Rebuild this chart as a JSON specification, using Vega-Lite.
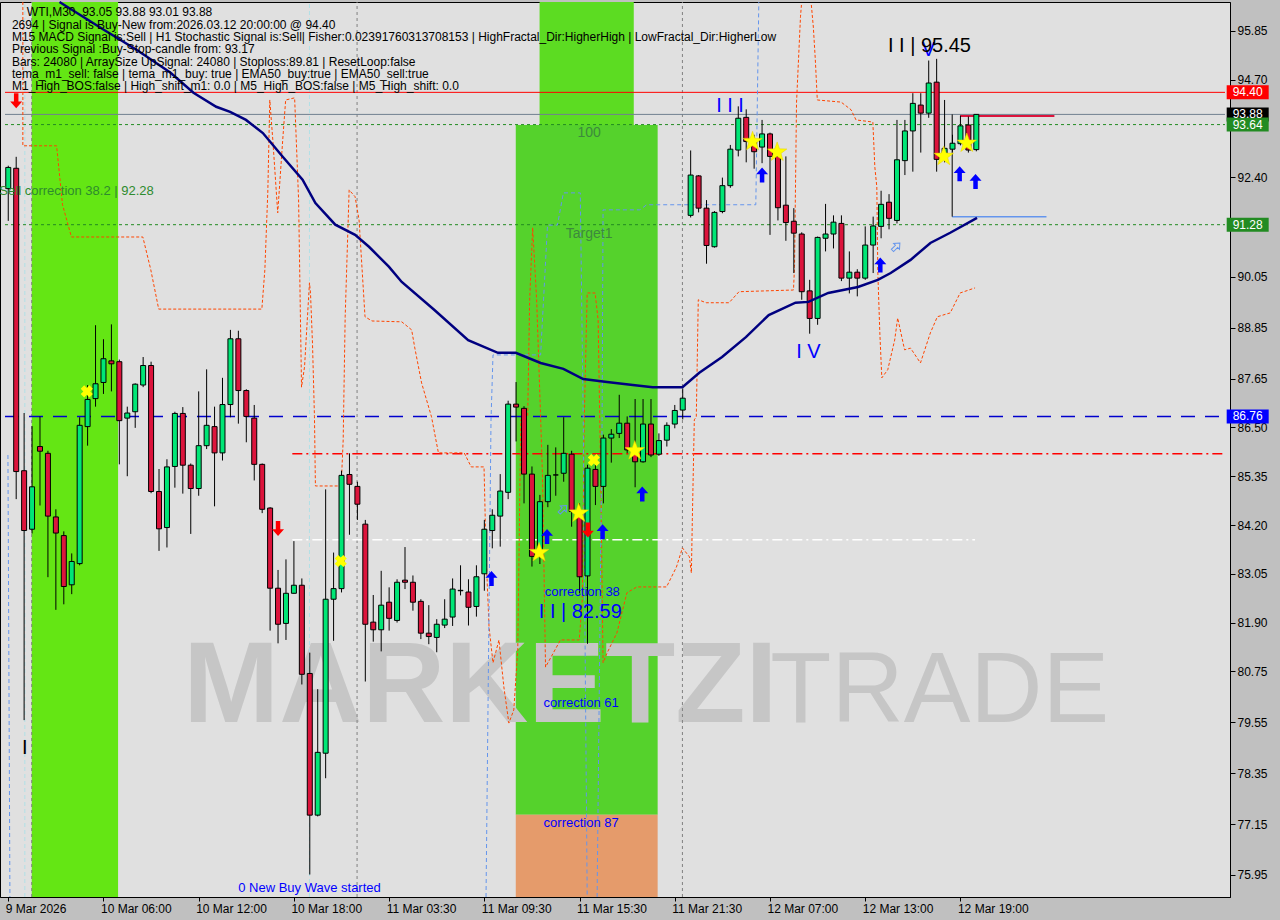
{
"$schema":"https://vega.github.io/schema/vega-lite/v6.json",
"width":1230,"height":895,
"autosize":{"type":"none"},
"padding":{"left":0,"top":2,"right":50,"bottom":23},
"background":"#c0c0c0",
"config":{"view":{"fill":"#e0e0e0","stroke":"#000000","strokeWidth":1},"font":"Liberation Sans",
 "axis":{"tickColor":"#000000","domainColor":"#000000","labelColor":"#000000","labelFont":"Liberation Sans","labelFontSize":12,"grid":false}},
"encoding":{
 "x":{"field":"i","type":"quantitative","title":null,"scale":{"domain":[-0.41,153.34],"nice":false,"zero":false},
  "axis":{"orient":"bottom","values":[0,12,24,36,48,60,72,84,96,108,120],"labelExpr":"datum.value < 6 ? '9 Mar 2026' : datum.value < 18 ? '10 Mar 06:00' : datum.value < 30 ? '10 Mar 12:00' : datum.value < 42 ? '10 Mar 18:00' : datum.value < 54 ? '11 Mar 03:30' : datum.value < 66 ? '11 Mar 09:30' : datum.value < 78 ? '11 Mar 15:30' : datum.value < 90 ? '11 Mar 21:30' : datum.value < 102 ? '12 Mar 07:00' : datum.value < 114 ? '12 Mar 13:00' : '12 Mar 19:00'","labelAlign":"left","labelBaseline":"top","labelFlush":false,"labelOffset":-3,"labelPadding":2,"tickSize":4,"title":null}},
 "y":{"field":"p","type":"quantitative","title":null,"scale":{"domain":[75.43,96.53],"nice":false,"zero":false},
  "axis":{"orient":"right","values":[95.85,94.70,92.40,90.05,88.85,87.65,86.50,85.35,84.20,83.05,81.90,80.75,79.55,78.35,77.15,75.95],"format":".2f","labelFlush":false,"labelPadding":2,"tickSize":5,"title":null}}
},
"datasets":{
"candles":[
{"i":0,"o":92.13,"h":92.67,"l":91.37,"c":92.63},
{"i":1,"o":92.61,"h":92.88,"l":84.81,"c":85.46},
{"i":2,"o":85.48,"h":86.84,"l":79.6,"c":84.07},
{"i":3,"o":84.1,"h":86.53,"l":84.0,"c":85.1},
{"i":4,"o":86.05,"h":86.76,"l":84.66,"c":85.94},
{"i":5,"o":85.89,"h":85.95,"l":82.97,"c":84.41},
{"i":6,"o":84.39,"h":84.57,"l":82.2,"c":84.01},
{"i":7,"o":83.95,"h":84.05,"l":82.33,"c":82.75},
{"i":8,"o":82.79,"h":83.53,"l":82.57,"c":83.34},
{"i":9,"o":83.29,"h":86.74,"l":83.25,"c":86.55},
{"i":10,"o":86.52,"h":87.5,"l":86.07,"c":87.16},
{"i":11,"o":87.18,"h":88.91,"l":86.99,"c":87.53},
{"i":12,"o":87.56,"h":88.58,"l":87.29,"c":88.12},
{"i":13,"o":88.07,"h":88.93,"l":87.35,"c":88.0},
{"i":14,"o":88.05,"h":88.1,"l":85.63,"c":86.66},
{"i":15,"o":86.72,"h":86.99,"l":85.35,"c":86.84},
{"i":16,"o":86.87,"h":87.54,"l":86.49,"c":87.52},
{"i":17,"o":87.5,"h":88.16,"l":87.45,"c":87.96},
{"i":18,"o":87.96,"h":88.05,"l":84.95,"c":84.99},
{"i":19,"o":84.99,"h":85.52,"l":83.59,"c":84.11},
{"i":20,"o":84.14,"h":85.75,"l":83.67,"c":85.57},
{"i":21,"o":85.58,"h":86.87,"l":85.08,"c":86.83},
{"i":22,"o":86.83,"h":86.98,"l":84.94,"c":85.61},
{"i":23,"o":85.61,"h":85.65,"l":83.99,"c":85.06},
{"i":24,"o":85.06,"h":87.35,"l":84.89,"c":86.07},
{"i":25,"o":86.07,"h":87.87,"l":85.99,"c":86.55},
{"i":26,"o":86.52,"h":86.99,"l":84.64,"c":85.9},
{"i":27,"o":85.9,"h":87.67,"l":85.72,"c":87.04},
{"i":28,"o":87.04,"h":88.8,"l":86.74,"c":88.59},
{"i":29,"o":88.59,"h":88.78,"l":86.59,"c":87.37},
{"i":30,"o":87.37,"h":87.4,"l":86.15,"c":86.76},
{"i":31,"o":86.72,"h":87.03,"l":85.25,"c":85.63},
{"i":32,"o":85.63,"h":85.65,"l":84.48,"c":84.57},
{"i":33,"o":84.6,"h":84.62,"l":81.71,"c":82.71},
{"i":34,"o":82.71,"h":83.14,"l":81.41,"c":81.86},
{"i":35,"o":81.88,"h":83.39,"l":81.49,"c":82.59},
{"i":36,"o":82.59,"h":83.82,"l":82.58,"c":82.78},
{"i":37,"o":82.78,"h":82.94,"l":80.44,"c":80.68},
{"i":38,"o":80.7,"h":81.19,"l":75.96,"c":77.36},
{"i":39,"o":77.36,"h":80.33,"l":77.33,"c":78.84},
{"i":40,"o":78.82,"h":85.04,"l":78.23,"c":82.45},
{"i":41,"o":82.45,"h":83.55,"l":81.47,"c":82.7},
{"i":42,"o":82.7,"h":85.48,"l":82.61,"c":85.37},
{"i":43,"o":85.39,"h":85.89,"l":83.97,"c":85.16},
{"i":44,"o":85.11,"h":85.22,"l":84.32,"c":84.69},
{"i":45,"o":84.22,"h":84.32,"l":80.51,"c":81.86},
{"i":46,"o":81.91,"h":82.55,"l":81.45,"c":81.73},
{"i":47,"o":81.73,"h":83.12,"l":81.22,"c":82.31},
{"i":48,"o":82.38,"h":82.73,"l":81.71,"c":82.0},
{"i":49,"o":81.95,"h":82.92,"l":81.9,"c":82.85},
{"i":50,"o":82.9,"h":83.68,"l":82.69,"c":82.85},
{"i":51,"o":82.85,"h":83.01,"l":82.18,"c":82.38},
{"i":52,"o":82.4,"h":82.45,"l":81.51,"c":81.65},
{"i":53,"o":81.65,"h":82.31,"l":81.39,"c":81.57},
{"i":54,"o":81.55,"h":81.98,"l":81.2,"c":81.86},
{"i":55,"o":81.84,"h":82.45,"l":81.77,"c":81.98},
{"i":56,"o":82.03,"h":82.94,"l":81.82,"c":82.69},
{"i":57,"o":82.65,"h":83.25,"l":82.54,"c":82.66},
{"i":58,"o":82.62,"h":82.92,"l":81.83,"c":82.26},
{"i":59,"o":82.28,"h":83.25,"l":82.04,"c":82.98},
{"i":60,"o":83.05,"h":84.32,"l":82.65,"c":84.1},
{"i":61,"o":84.07,"h":84.57,"l":83.65,"c":84.43},
{"i":62,"o":84.41,"h":85.4,"l":83.69,"c":85.0},
{"i":63,"o":84.97,"h":87.13,"l":84.81,"c":87.05},
{"i":64,"o":87.05,"h":87.57,"l":86.17,"c":86.98},
{"i":65,"o":86.95,"h":87.0,"l":84.71,"c":85.4},
{"i":66,"o":85.4,"h":85.58,"l":83.22,"c":83.46},
{"i":67,"o":83.46,"h":84.91,"l":83.28,"c":84.75},
{"i":68,"o":84.75,"h":86.09,"l":84.62,"c":85.37},
{"i":69,"o":85.38,"h":86.03,"l":84.89,"c":85.38},
{"i":70,"o":85.42,"h":86.74,"l":85.22,"c":85.89},
{"i":71,"o":85.87,"h":85.95,"l":84.16,"c":84.52},
{"i":72,"o":84.52,"h":84.71,"l":82.59,"c":82.98},
{"i":73,"o":83.0,"h":85.62,"l":81.4,"c":85.54},
{"i":74,"o":85.51,"h":85.62,"l":84.67,"c":85.11},
{"i":75,"o":85.11,"h":86.33,"l":84.71,"c":86.25},
{"i":76,"o":86.25,"h":86.46,"l":85.67,"c":86.34},
{"i":77,"o":86.36,"h":87.27,"l":86.25,"c":86.6},
{"i":78,"o":86.6,"h":86.76,"l":85.9,"c":85.97},
{"i":79,"o":85.97,"h":87.17,"l":85.09,"c":85.69},
{"i":80,"o":85.69,"h":87.17,"l":85.67,"c":86.58},
{"i":81,"o":86.58,"h":87.17,"l":85.8,"c":85.85},
{"i":82,"o":85.87,"h":86.36,"l":85.83,"c":86.19},
{"i":83,"o":86.2,"h":86.62,"l":86.05,"c":86.55},
{"i":84,"o":86.58,"h":87.03,"l":86.48,"c":86.9},
{"i":85,"o":86.91,"h":87.42,"l":86.69,"c":87.19},
{"i":86,"o":91.5,"h":93.03,"l":91.45,"c":92.45},
{"i":87,"o":92.43,"h":92.45,"l":91.57,"c":91.67},
{"i":88,"o":91.67,"h":91.86,"l":90.36,"c":90.79},
{"i":89,"o":90.76,"h":91.6,"l":90.74,"c":91.57},
{"i":90,"o":91.59,"h":92.39,"l":91.55,"c":92.2},
{"i":91,"o":92.2,"h":93.16,"l":92.15,"c":93.06},
{"i":92,"o":93.04,"h":94.07,"l":92.89,"c":93.79},
{"i":93,"o":93.81,"h":94.0,"l":92.75,"c":93.24},
{"i":94,"o":93.24,"h":93.4,"l":92.6,"c":93.0},
{"i":95,"o":93.11,"h":93.75,"l":92.73,"c":93.42},
{"i":96,"o":93.42,"h":93.45,"l":91.04,"c":92.89},
{"i":97,"o":92.89,"h":93.08,"l":91.38,"c":91.68},
{"i":98,"o":91.74,"h":92.89,"l":90.9,"c":91.33},
{"i":99,"o":91.36,"h":91.67,"l":90.14,"c":91.08},
{"i":100,"o":91.06,"h":91.1,"l":89.51,"c":89.7},
{"i":101,"o":89.72,"h":89.98,"l":88.71,"c":89.07},
{"i":102,"o":89.07,"h":91.0,"l":88.92,"c":90.98},
{"i":103,"o":90.96,"h":91.77,"l":90.65,"c":91.06},
{"i":104,"o":91.06,"h":91.5,"l":90.72,"c":91.34},
{"i":105,"o":91.31,"h":91.5,"l":89.95,"c":90.02},
{"i":106,"o":90.02,"h":90.65,"l":89.66,"c":90.16},
{"i":107,"o":90.16,"h":90.23,"l":89.59,"c":90.02},
{"i":108,"o":90.02,"h":91.24,"l":89.98,"c":90.8},
{"i":109,"o":90.8,"h":91.47,"l":90.14,"c":91.25},
{"i":110,"o":91.24,"h":92.08,"l":90.96,"c":91.76},
{"i":111,"o":91.81,"h":92.0,"l":91.17,"c":91.43},
{"i":112,"o":91.38,"h":93.75,"l":91.31,"c":92.81},
{"i":113,"o":92.79,"h":93.75,"l":92.45,"c":93.49},
{"i":114,"o":93.49,"h":94.38,"l":92.53,"c":94.14},
{"i":115,"o":94.1,"h":94.38,"l":92.98,"c":93.91},
{"i":116,"o":93.91,"h":95.15,"l":93.8,"c":94.62},
{"i":117,"o":94.64,"h":95.19,"l":92.53,"c":92.82},
{"i":118,"o":92.9,"h":94.22,"l":92.75,"c":93.08},
{"i":119,"o":93.06,"h":93.4,"l":93.0,"c":93.2},
{"i":120,"o":93.19,"h":93.85,"l":93.15,"c":93.61},
{"i":121,"o":93.63,"h":93.83,"l":92.98,"c":93.04},
{"i":122,"o":93.05,"h":93.88,"l":93.01,"c":93.88}
],
"ema":[
{"i":6.46,"p":96.53},{"i":12.09,"p":95.87},{"i":16.21,"p":95.4},{"i":20.46,"p":94.86},{"i":23.34,"p":94.39},{"i":26.21,"p":94.06},{"i":27.96,"p":93.94},{"i":29.96,"p":93.75},{"i":32.09,"p":93.44},{"i":34.59,"p":92.88},{"i":37.09,"p":92.34},{"i":38.71,"p":91.79},{"i":41.21,"p":91.28},{"i":43.71,"p":91.04},{"i":45.46,"p":90.76},{"i":47.96,"p":90.29},{"i":49.59,"p":89.93},{"i":53.71,"p":89.27},{"i":57.96,"p":88.56},{"i":61.71,"p":88.26},{"i":63.96,"p":88.26},{"i":67.09,"p":88.02},{"i":69.96,"p":87.88},{"i":72.46,"p":87.64},{"i":75.46,"p":87.57},{"i":78.71,"p":87.5},{"i":81.21,"p":87.45},{"i":84.96,"p":87.45},{"i":87.09,"p":87.79},{"i":89.96,"p":88.16},{"i":92.96,"p":88.63},{"i":95.84,"p":89.15},{"i":99.21,"p":89.44},{"i":100.84,"p":89.46},{"i":103.34,"p":89.67},{"i":107.09,"p":89.81},{"i":109.59,"p":89.98},{"i":111.21,"p":90.14},{"i":113.71,"p":90.45},{"i":116.21,"p":90.85},{"i":118.71,"p":91.09},{"i":122.09,"p":91.44}
],
"orange":[
{"s":"a","k":1,"i":1.84,"p":96.53},{"s":"a","k":2,"i":1.84,"p":93.14},{"s":"a","k":3,"i":6.09,"p":93.14},{"s":"a","k":4,"i":6.84,"p":91.75},{"s":"a","k":5,"i":7.96,"p":90.99},{"s":"a","k":6,"i":16.96,"p":90.99},{"s":"a","k":7,"i":17.96,"p":90.22},{"s":"a","k":8,"i":18.96,"p":89.29},{"s":"a","k":9,"i":31.96,"p":89.29},{"s":"a","k":10,"i":32.34,"p":90.22},{"s":"a","k":11,"i":32.71,"p":92.05},{"s":"a","k":12,"i":32.96,"p":94.22},{"s":"a","k":13,"i":33.34,"p":93.28},{"s":"a","k":14,"i":33.96,"p":91.56},{"s":"a","k":15,"i":34.59,"p":93.28},{"s":"a","k":16,"i":34.96,"p":94.22},{"s":"a","k":17,"i":36.09,"p":94.27},{"s":"a","k":18,"i":36.59,"p":91.87},{"s":"a","k":19,"i":36.96,"p":87.45},{"s":"a","k":20,"i":37.34,"p":87.93},{"s":"a","k":21,"i":37.96,"p":89.91},{"s":"a","k":22,"i":38.09,"p":89.67},{"s":"a","k":23,"i":38.34,"p":88.49},{"s":"a","k":24,"i":38.59,"p":86.75},{"s":"a","k":25,"i":38.71,"p":85.12},{"s":"a","k":26,"i":41.96,"p":85.12},{"s":"a","k":27,"i":42.21,"p":86.21},{"s":"a","k":28,"i":42.46,"p":89.11},{"s":"a","k":29,"i":42.96,"p":92.1},{"s":"a","k":30,"i":43.71,"p":91.94},{"s":"a","k":31,"i":44.21,"p":91.39},{"s":"a","k":32,"i":44.96,"p":89.11},{"s":"a","k":33,"i":45.84,"p":89.01},{"s":"a","k":34,"i":49.59,"p":88.99},{"s":"a","k":35,"i":50.84,"p":88.8},{"s":"a","k":36,"i":51.21,"p":88.4},{"s":"a","k":37,"i":52.09,"p":87.55},{"s":"a","k":38,"i":53.34,"p":86.75},{"s":"a","k":39,"i":54.21,"p":85.9},{"s":"a","k":40,"i":57.46,"p":85.9},{"s":"a","k":41,"i":58.34,"p":85.57},{"s":"a","k":42,"i":59.96,"p":85.57},{"s":"a","k":43,"i":60.21,"p":83.54},{"s":"a","k":44,"i":60.59,"p":81.8},{"s":"a","k":45,"i":61.09,"p":80.95},{"s":"a","k":46,"i":61.84,"p":81.49},{"s":"a","k":47,"i":62.46,"p":80.38},{"s":"a","k":48,"i":63.09,"p":79.53},{"s":"a","k":49,"i":63.71,"p":79.84},{"s":"a","k":50,"i":64.21,"p":81.25},{"s":"a","k":51,"i":64.59,"p":86.68},{"s":"a","k":52,"i":65.46,"p":86.75},{"s":"a","k":53,"i":65.71,"p":89.51},{"s":"a","k":54,"i":66.09,"p":91.21},{"s":"a","k":55,"i":66.59,"p":89.51},{"s":"a","k":56,"i":67.09,"p":86.75},{"s":"a","k":57,"i":67.34,"p":85.26},{"s":"a","k":58,"i":67.71,"p":80.85},{"s":"a","k":59,"i":69.59,"p":81.49},{"s":"a","k":60,"i":71.96,"p":81.49},{"s":"a","k":61,"i":72.34,"p":82.43},{"s":"a","k":62,"i":72.59,"p":86.68},{"s":"a","k":63,"i":72.96,"p":89.67},{"s":"a","k":64,"i":73.96,"p":89.67},{"s":"a","k":65,"i":74.34,"p":89.03},{"s":"a","k":66,"i":74.71,"p":84.79},{"s":"a","k":67,"i":74.96,"p":80.95},{"s":"a","k":68,"i":75.46,"p":81.18},{"s":"a","k":69,"i":76.71,"p":81.66},{"s":"a","k":70,"i":77.96,"p":82.6},{"s":"a","k":71,"i":79.21,"p":82.74},{"s":"a","k":72,"i":82.96,"p":82.74},{"s":"a","k":73,"i":84.21,"p":83.21},{"s":"a","k":74,"i":84.96,"p":83.66},{"s":"a","k":75,"i":85.84,"p":83.45},{"s":"a","k":76,"i":86.09,"p":83.07},{"s":"a","k":77,"i":86.21,"p":84.32},{"s":"a","k":78,"i":86.46,"p":86.68},{"s":"a","k":79,"i":86.71,"p":86.75},{"s":"a","k":80,"i":86.96,"p":89.51},{"s":"a","k":81,"i":87.96,"p":89.44},{"s":"a","k":82,"i":90.84,"p":89.44},{"s":"a","k":83,"i":92.09,"p":89.7},{"s":"a","k":84,"i":98.96,"p":89.74},{"s":"a","k":85,"i":99.09,"p":90.29},{"s":"a","k":86,"i":99.34,"p":94.15},{"s":"a","k":87,"i":99.84,"p":96.18},{"s":"a","k":88,"i":99.96,"p":96.46},
{"s":"b","k":1,"i":101.21,"p":96.46},{"s":"b","k":2,"i":101.46,"p":95.94},{"s":"b","k":3,"i":101.71,"p":95.17},{"s":"b","k":4,"i":101.96,"p":94.22},{"s":"b","k":5,"i":104.96,"p":94.17},{"s":"b","k":6,"i":106.21,"p":93.99},{"s":"b","k":7,"i":106.84,"p":93.75},{"s":"b","k":8,"i":108.96,"p":93.7},{"s":"b","k":9,"i":109.21,"p":92.64},{"s":"b","k":10,"i":109.46,"p":92.17},{"s":"b","k":11,"i":109.59,"p":90.14},{"s":"b","k":12,"i":109.84,"p":88.73},{"s":"b","k":13,"i":110.09,"p":87.67},{"s":"b","k":14,"i":110.84,"p":87.86},{"s":"b","k":15,"i":111.71,"p":88.56},{"s":"b","k":16,"i":112.09,"p":89.08},{"s":"b","k":17,"i":112.96,"p":88.33},{"s":"b","k":18,"i":113.71,"p":88.37},{"s":"b","k":19,"i":114.96,"p":88.02},{"s":"b","k":20,"i":116.21,"p":88.73},{"s":"b","k":21,"i":117.09,"p":89.11},{"s":"b","k":22,"i":118.71,"p":89.2},{"s":"b","k":23,"i":119.96,"p":89.67},{"s":"b","k":24,"i":121.84,"p":89.79}
],
"bluedash":[
{"s":"a","k":1,"i":-0.04,"p":85.85},{"s":"a","k":2,"i":0.21,"p":75.43},
{"s":"b","k":1,"i":60.21,"p":75.43},{"s":"b","k":2,"i":60.84,"p":86.68},{"s":"b","k":3,"i":61.09,"p":88.21},{"s":"b","k":4,"i":67.09,"p":88.21},{"s":"b","k":5,"i":67.96,"p":91.27},{"s":"b","k":6,"i":69.21,"p":91.27},{"s":"b","k":7,"i":69.96,"p":92.03},{"s":"b","k":8,"i":72.09,"p":92.03},{"s":"b","k":9,"i":72.46,"p":86.68},{"s":"b","k":10,"i":72.96,"p":75.43},
{"s":"c","k":1,"i":74.21,"p":75.43},{"s":"c","k":2,"i":74.84,"p":86.68},{"s":"c","k":3,"i":74.96,"p":91.63},{"s":"c","k":4,"i":79.59,"p":91.63},{"s":"c","k":5,"i":80.46,"p":91.75},{"s":"c","k":6,"i":94.21,"p":91.75},{"s":"c","k":7,"i":94.59,"p":96.53}
]
},
"layer":[
{"data":{"values":[{"i1":2.96,"i2":13.84,"p1":75.43,"p2":96.53,"k":"a"},{"i1":66.96,"i2":78.83,"p1":93.63,"p2":96.53,"k":"b"},{"i1":63.96,"i2":81.84,"p1":77.37,"p2":93.63,"k":"c"},{"i1":63.96,"i2":81.84,"p1":75.43,"p2":77.37,"k":"d"}]},
 "mark":{"type":"rect"},
 "encoding":{"x":{"field":"i1","type":"quantitative","title":null},"x2":{"field":"i2"},"y":{"field":"p1","type":"quantitative","title":null},"y2":{"field":"p2"},"fill":{"field":"k","type":"nominal","scale":{"domain":["a","b","c","d"],"range":["#64e614","#5cdc22","#55d22c","#e59b6b"]},"legend":null}}},
{"data":{"values":[{"i":59.5,"p":79.56,"t":"MARKETZI"}]},
 "mark":{"type":"text","font":"Liberation Sans","fontSize":115,"fontWeight":"bold","color":"#c6c6c6","align":"center","baseline":"alphabetic"},
 "encoding":{"text":{"field":"t"}}},
{"data":{"values":[{"i":117.4,"p":79.56,"t":"TRADE"}]},
 "mark":{"type":"text","font":"Liberation Sans","fontSize":100,"fontWeight":"normal","color":"#c6c6c6","align":"center","baseline":"alphabetic"},
 "encoding":{"text":{"field":"t"}}},
{"data":{"values":[{"i":2.96,"p1":75.43,"p2":96.53},{"i":43.96,"p1":75.43,"p2":96.53},{"i":84.96,"p1":75.43,"p2":96.53}]},
 "mark":{"type":"rule","color":"#808080","strokeWidth":1,"strokeDash":[3,3]},
 "encoding":{"y":{"field":"p1","type":"quantitative","title":null},"y2":{"field":"p2"}}},
{"data":{"values":[{"i":2.09,"p1":75.43,"p2":96.53},{"i":37.96,"p1":75.43,"p2":96.53}]},
 "mark":{"type":"rule","color":"#b0e0e6","strokeWidth":1,"strokeDash":[4,3]},
 "encoding":{"y":{"field":"p1","type":"quantitative","title":null},"y2":{"field":"p2"}}},
{"data":{"values":[{"i1":-0.41,"i2":153.34,"p":94.40}]},
 "mark":{"type":"rule","color":"#ff0000","strokeWidth":1},
 "encoding":{"x":{"field":"i1","type":"quantitative","title":null},"x2":{"field":"i2"}}},
{"data":{"values":[{"i1":-0.41,"i2":153.34,"p":93.88}]},
 "mark":{"type":"rule","color":"#708090","strokeWidth":1},
 "encoding":{"x":{"field":"i1","type":"quantitative","title":null},"x2":{"field":"i2"}}},
{"data":{"values":[{"i1":-0.41,"i2":153.34,"p":93.64},{"i1":-0.41,"i2":153.34,"p":91.28}]},
 "mark":{"type":"rule","color":"#228b22","strokeWidth":1,"strokeDash":[3,3]},
 "encoding":{"x":{"field":"i1","type":"quantitative","title":null},"x2":{"field":"i2"}}},
{"data":{"values":[{"i1":-0.41,"i2":153.34,"p":86.76}]},
 "mark":{"type":"rule","color":"#0000cd","strokeWidth":1.5,"strokeDash":[14,10]},
 "encoding":{"x":{"field":"i1","type":"quantitative","title":null},"x2":{"field":"i2"}}},
{"data":{"values":[{"i1":35.8,"i2":153.34,"p":85.88}]},
 "mark":{"type":"rule","color":"#ff0000","strokeWidth":1.5,"strokeDash":[10,4,2,4]},
 "encoding":{"x":{"field":"i1","type":"quantitative","title":null},"x2":{"field":"i2"}}},
{"data":{"values":[{"i1":35.8,"i2":121.84,"p":83.85}]},
 "mark":{"type":"rule","color":"#ffffff","strokeWidth":1.5,"strokeDash":[10,4,2,4]},
 "encoding":{"x":{"field":"i1","type":"quantitative","title":null},"x2":{"field":"i2"}}},
{"data":{"values":[{"i1":119.96,"i2":131.84,"p":93.84}]},
 "mark":{"type":"rule","color":"#dc143c","strokeWidth":2},
 "encoding":{"x":{"field":"i1","type":"quantitative","title":null},"x2":{"field":"i2"}}},
{"data":{"values":[{"i1":118.96,"i2":130.84,"p":91.47}]},
 "mark":{"type":"rule","color":"#6495ed","strokeWidth":1.5},
 "encoding":{"x":{"field":"i1","type":"quantitative","title":null},"x2":{"field":"i2"}}},
{"data":{"values":[{"i":118.96,"p1":91.47,"p2":93.88}]},
 "mark":{"type":"rule","color":"#000000","strokeWidth":1},
 "encoding":{"y":{"field":"p1","type":"quantitative","title":null},"y2":{"field":"p2"}}},
{"data":{"name":"orange"},
 "mark":{"type":"line","color":"#ff4500","strokeWidth":1,"strokeDash":[3,2]},
 "encoding":{"detail":{"field":"s"},"order":{"field":"k","type":"quantitative"}}},
{"data":{"name":"bluedash"},
 "mark":{"type":"line","color":"#6495ed","strokeWidth":1,"strokeDash":[4,3]},
 "encoding":{"detail":{"field":"s"},"order":{"field":"k","type":"quantitative"}}},
{"data":{"name":"candles"},
 "mark":{"type":"rule","color":"#000000","strokeWidth":1},
 "encoding":{"y":{"field":"l","type":"quantitative","title":null},"y2":{"field":"h"}}},
{"data":{"name":"candles"},
 "mark":{"type":"bar","size":5,"stroke":"#000000","strokeWidth":1},
 "encoding":{"y":{"field":"o","type":"quantitative","title":null},"y2":{"field":"c"},
  "fill":{"condition":{"test":"datum.c >= datum.o","value":"#00e676"},"value":"#dc143c"}}},
{"data":{"name":"ema"},
 "mark":{"type":"line","color":"#000080","strokeWidth":2.5}},
{"data":{"values":[{"i":66.9,"p":83.55},{"i":71.9,"p":84.48},{"i":78.96,"p":85.95},{"i":93.8,"p":93.24},{"i":96.9,"p":92.99},{"i":117.9,"p":92.89},{"i":120.8,"p":93.2}]},
 "mark":{"type":"point","filled":true,"shape":"M0,-1 L0.235,-0.324 L0.951,-0.309 L0.38,0.124 L0.588,0.809 L0,0.4 L-0.588,0.809 L-0.38,0.124 L-0.951,-0.309 L-0.235,-0.324 Z","size":420,"color":"#ffff00","opacity":1,"stroke":"#e8d000","strokeWidth":0.5}},
{"data":{"values":[{"i":9.9,"p":87.35},{"i":41.9,"p":83.35},{"i":73.8,"p":85.73}]},
 "mark":{"type":"point","filled":true,"shape":"cross","angle":45,"size":150,"color":"#ffff00","opacity":1}},
{"data":{"values":[{"i":60.9,"p":82.94},{"i":67.9,"p":83.93},{"i":74.9,"p":84.04},{"i":79.9,"p":84.93},{"i":95.0,"p":92.45},{"i":109.9,"p":90.33},{"i":119.9,"p":92.48},{"i":121.9,"p":92.3}]},
 "mark":{"type":"point","filled":true,"shape":"M0,-1 L0.8,-0.1 L0.3,-0.1 L0.3,1 L-0.3,1 L-0.3,-0.1 L-0.8,-0.1 Z","size":225,"color":"#0000ff","opacity":1}},
{"data":{"values":[{"i":1.0,"p":94.2},{"i":34.0,"p":84.12},{"i":73.05,"p":84.08}]},
 "mark":{"type":"point","filled":true,"shape":"M0,1 L0.8,0.1 L0.3,0.1 L0.3,-1 L-0.3,-1 L-0.3,0.1 L-0.8,0.1 Z","size":225,"color":"#ff0000","opacity":1}},
{"data":{"values":[{"i":69.9,"p":84.57},{"i":111.9,"p":90.76}]},
 "mark":{"type":"point","filled":false,"shape":"M0,-1 L0.8,-0.1 L0.3,-0.1 L0.3,1 L-0.3,1 L-0.3,-0.1 L-0.8,-0.1 Z","angle":45,"size":110,"color":"#6495ed","strokeWidth":1,"opacity":1}},
{"data":{"values":[
 {"i":2.34,"p":96.30,"t":"WTI,M30\u00a0 93.05 93.88 93.01 93.88"},
 {"i":0.46,"p":95.99,"t":"2694 | Signal is Buy-New from:2026.03.12 20:00:00 @ 94.40"},
 {"i":0.46,"p":95.71,"t":"M15 MACD Signal is:Sell | H1 Stochastic Signal is:Sell| Fisher:0.02391760313708153 | HighFractal_Dir:HigherHigh | LowFractal_Dir:HigherLow"},
 {"i":0.46,"p":95.43,"t":"Previous Signal :Buy-Stop-candle from: 93.17"},
 {"i":0.46,"p":95.12,"t":"Bars: 24080 | ArraySize UpSignal: 24080 | Stoploss:89.81 | ResetLoop:false"},
 {"i":0.46,"p":94.84,"t":"tema_m1_sell: false | tema_m1_buy: true | EMA50_buy:true | EMA50_sell:true"},
 {"i":0.46,"p":94.55,"t":"M1_High_BOS:false | High_shift_m1: 0.0 | M5_High_BOS:false | M5_High_shift: 0.0"}]},
 "mark":{"type":"text","font":"Liberation Sans","fontSize":12,"color":"#000000","align":"left","baseline":"middle"},
 "encoding":{"text":{"field":"t"}}},
{"data":{"values":[{"i":-1.12,"p":92.08,"t":"Sell correction 38.2 | 92.28"}]},
 "mark":{"type":"text","font":"Liberation Sans","fontSize":13,"color":"#2e8b2e","align":"left","baseline":"middle","clip":false},
 "encoding":{"text":{"field":"t"}}},
{"data":{"values":[{"i":73.2,"p":93.44,"t":"100"},{"i":73.2,"p":91.06,"t":"Target1"}]},
 "mark":{"type":"text","font":"Liberation Sans","fontSize":14,"color":"#3d8a3d","align":"center","baseline":"middle"},
 "encoding":{"text":{"field":"t"}}},
{"data":{"values":[{"i":72.34,"p":82.62,"t":"correction 38"},{"i":72.2,"p":80.0,"t":"correction 61"},{"i":72.2,"p":77.17,"t":"correction 87"},{"i":37.96,"p":75.64,"t":"0 New Buy Wave started"}]},
 "mark":{"type":"text","font":"Liberation Sans","fontSize":13,"color":"#0000ff","align":"center","baseline":"middle"},
 "encoding":{"text":{"field":"t"}}},
{"data":{"values":[{"i":72.09,"p":82.15,"t":"I I | 82.59"},{"i":90.96,"p":94.08,"t":"I I I"},{"i":100.84,"p":88.28,"t":"I V"},{"i":115.96,"p":95.4,"t":"V"}]},
 "mark":{"type":"text","font":"Liberation Sans","fontSize":20,"color":"#0000ff","align":"center","baseline":"middle"},
 "encoding":{"text":{"field":"t"}}},
{"data":{"values":[{"i":116.09,"p":95.5,"t":"I I | 95.45"},{"i":2.09,"p":78.94,"t":"I"}]},
 "mark":{"type":"text","font":"Liberation Sans","fontSize":20,"color":"#000000","align":"center","baseline":"middle"},
 "encoding":{"text":{"field":"t"}}},
{"data":{"values":[{"i":156.2,"p":94.40,"k":"sig","t":"94.40"},{"i":156.2,"p":93.88,"k":"px","t":"93.88"},{"i":156.2,"p":93.64,"k":"lvl","t":"93.64"},{"i":156.2,"p":91.28,"k":"lvl","t":"91.28"},{"i":156.2,"p":86.76,"k":"ema","t":"86.76"}]},
 "mark":{"type":"point","filled":true,"opacity":1,"clip":false,"shape":"M-1.5,-0.5 L1.5,-0.5 L1.5,0.5 L-1.5,0.5 Z","size":784},
 "encoding":{"color":{"field":"k","type":"nominal","scale":{"domain":["sig","px","lvl","ema"],"range":["#ff0000","#000000","#228b22","#0000ff"]},"legend":null}}},
{"data":{"values":[{"i":156.2,"p":94.40,"t":"94.40"},{"i":156.2,"p":93.88,"t":"93.88"},{"i":156.2,"p":93.64,"t":"93.64"},{"i":156.2,"p":91.28,"t":"91.28"},{"i":156.2,"p":86.76,"t":"86.76"}]},
 "mark":{"type":"text","font":"Liberation Sans","fontSize":12,"color":"#ffffff","align":"center","baseline":"middle","clip":false},
 "encoding":{"text":{"field":"t"}}}
]
}
